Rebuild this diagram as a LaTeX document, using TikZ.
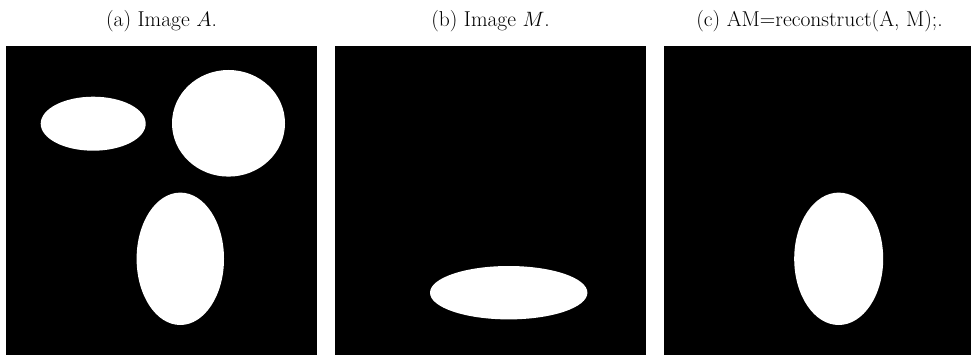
\documentclass[tikz,border=0pt]{standalone}
\usepackage{tikz}
\begin{document}
\begin{tikzpicture}[x=1pt,y=-1pt,
  panel/.style={fill=black,draw=none},
  blob/.style={fill=white,draw=none},
  captext/.style={anchor=base,inner sep=0pt,font=\fontsize{21.5}{25}\selectfont}]
\useasboundingbox (0,0) rectangle (971,355);
% panels
\fill[panel] (6,46) coordinate (pa) rectangle (317,355);
\fill[panel] (335,46) coordinate (pb) rectangle (646,355);
\fill[panel] (664,46) coordinate (pc) rectangle (971,355);
% captions
\node[captext] (capa) at (161.5,26.7) {(a) Image $A$.};
\node[captext] (capb) at (490.5,26.7) {(b) Image $M$.};
\node[captext] (capc) at (819.5,26.7) {(c) AM=reconstruct(A, M);.};
% image A
\fill[blob] (93.2,123.7) ellipse [x radius=52.5, y radius=27];
\fill[blob] (228.5,123.3) ellipse [x radius=56.5, y radius=53.3];
\fill[blob] (180.3,258.8) ellipse [x radius=43.7, y radius=66.2];
% image M
\fill[blob] (508.7,292.7) ellipse [x radius=78.7, y radius=26.7];
% image AM
\fill[blob] (838.7,258.8) ellipse [x radius=44.5, y radius=66.2];
\end{tikzpicture}
\end{document}
